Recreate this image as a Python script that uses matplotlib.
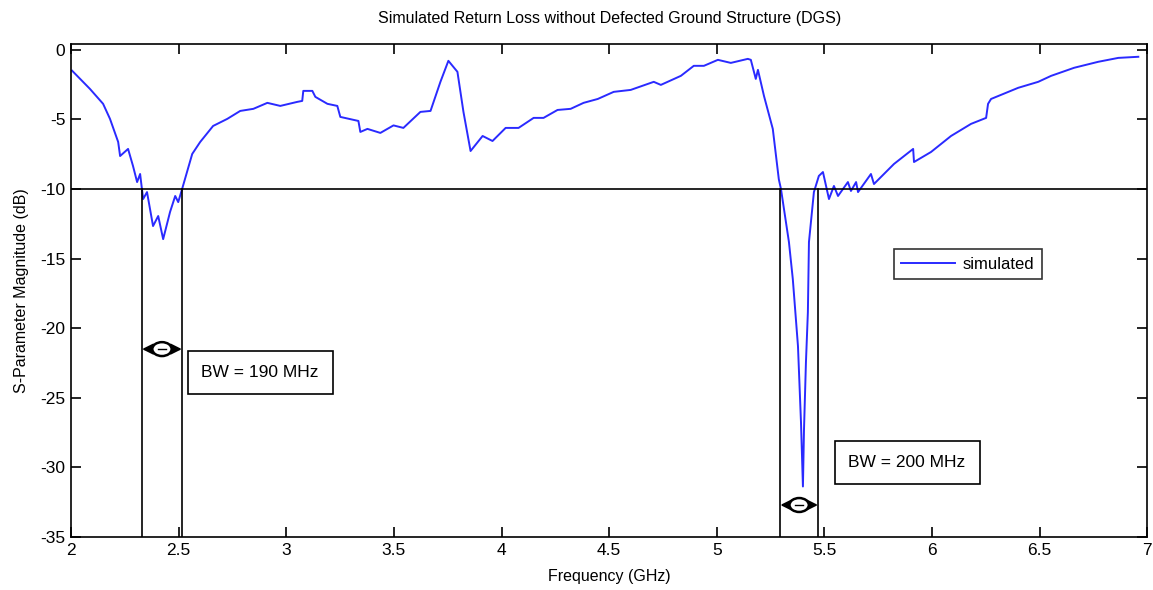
import matplotlib
matplotlib.use('Agg')
import matplotlib.pyplot as plt
from matplotlib.patches import Ellipse

plt.rcParams['font.family'] = ['Liberation Sans', 'DejaVu Sans']
plt.rcParams['axes.unicode_minus'] = False

# --- Данные ---
freq_ghz = [2.005, 2.088, 2.149, 2.181, 2.219, 2.228, 2.265, 2.288, 2.307, 2.321,
            2.335, 2.353, 2.381, 2.405, 2.428, 2.460, 2.484, 2.498, 2.516, 2.563,
            2.600, 2.660, 2.726, 2.786, 2.847, 2.912, 2.972, 3.051, 3.074, 3.079,
            3.121, 3.135, 3.191, 3.237, 3.251, 3.335, 3.344, 3.377, 3.437, 3.498,
            3.544, 3.623, 3.670, 3.716, 3.753, 3.795, 3.823, 3.856, 3.912, 3.958,
            4.019, 4.079, 4.149, 4.195, 4.260, 4.321, 4.381, 4.447, 4.521, 4.600,
            4.707, 4.740, 4.833, 4.893, 4.940, 5.005, 5.065, 5.144, 5.158, 5.181,
            5.191, 5.219, 5.260, 5.288, 5.298, 5.335, 5.353, 5.377, 5.391, 5.400,
            5.405, 5.414, 5.423, 5.428, 5.451, 5.474, 5.493, 5.521, 5.544, 5.563,
            5.609, 5.623, 5.647, 5.656, 5.716, 5.730, 5.823, 5.912, 5.916, 5.995,
            6.088, 6.181, 6.251, 6.260, 6.274, 6.400, 6.493, 6.553, 6.660, 6.772,
            6.865, 6.958]
s11_db = [-1.50, -2.81, -3.88, -4.96, -6.62, -7.63, -7.12, -8.35, -9.50, -8.92,
          -10.72, -10.22, -12.66, -11.94, -13.60, -11.65, -10.50, -10.94, -10.00, -7.48,
          -6.62, -5.47, -4.96, -4.39, -4.24, -3.81, -4.03, -3.74, -3.67, -2.95,
          -2.95, -3.38, -3.88, -4.03, -4.82, -5.11, -5.90, -5.68, -5.97, -5.43,
          -5.61, -4.46, -4.39, -2.30, -0.79, -1.58, -4.46, -7.27, -6.19, -6.55,
          -5.61, -5.61, -4.89, -4.89, -4.32, -4.24, -3.81, -3.53, -3.02, -2.88,
          -2.30, -2.52, -1.87, -1.15, -1.15, -0.72, -0.94, -0.65, -0.72, -2.09,
          -1.44, -3.31, -5.68, -9.30, -10.00, -13.81, -16.47, -21.29, -26.76, -31.37,
          -27.27, -22.45, -18.85, -13.81, -10.22, -9.06, -8.78, -10.72, -9.78, -10.50,
          -9.50, -10.14, -9.50, -10.22, -8.92, -9.64, -8.20, -7.12, -8.06, -7.34,
          -6.19, -5.32, -4.89, -3.88, -3.53, -2.73, -2.30, -1.87, -1.29, -0.86,
          -0.58, -0.50]

level_db = -10
band1 = (2.33, 2.515)
band2 = (5.295, 5.47)
arrow1_y = -21.5
arrow2_y = -32.7
bw1_label = 'BW = 190 MHz'
bw2_label = 'BW = 200 MHz'

# --- Построение ---
fig = plt.figure(figsize=(11.53, 5.90), dpi=100)
ax = fig.add_axes([0.0616, 0.0898, 0.9335, 0.8352])

ax.plot(freq_ghz, s11_db, color='#2a2aff', lw=1.4, label='simulated')

# Уровень -10 дБ и границы полос
ax.axhline(level_db, color='black', lw=1.2)
for f in (*band1, *band2):
    ax.plot([f, f], [-35, level_db], color='black', lw=1.2)

# Стрелки ширины полосы
for (fa, fb), ya in ((band1, arrow1_y), (band2, arrow2_y)):
    ax.annotate('', xy=(fa, ya), xytext=(fb, ya),
                arrowprops=dict(arrowstyle='<|-|>', color='black', lw=1.5,
                                mutation_scale=16, shrinkA=0, shrinkB=0))
    fm = (fa + fb) / 2
    ax.add_patch(Ellipse((fm, ya), 0.09, 1.0, facecolor='white',
                         edgecolor='black', lw=1.8, zorder=5))
    ax.plot([fm - 0.02, fm + 0.02], [ya, ya], color='black', lw=1, zorder=6)

box = dict(boxstyle='square,pad=0.8', facecolor='white', edgecolor='black', lw=1.2)
ax.text(2.879, -23.17, bw1_label, ha='center', va='center', fontsize=12.5, bbox=box)
ax.text(5.884, -29.64, bw2_label, ha='center', va='center', fontsize=12.5, bbox=box)

# Оформление
ax.set_xlim(2, 7)
ax.set_ylim(-35, 0.4)
ax.set_xticks([2, 2.5, 3, 3.5, 4, 4.5, 5, 5.5, 6, 6.5, 7])
ax.set_xticklabels(['2', '2.5', '3', '3.5', '4', '4.5', '5', '5.5', '6', '6.5', '7'])
ax.set_yticks([0, -5, -10, -15, -20, -25, -30, -35])
ax.tick_params(direction='in', length=7, width=1.2, top=True, right=True,
               labelsize=12.5, pad=4)
for sp in ax.spines.values():
    sp.set_linewidth(1.2)

ax.set_xlabel('Frequency (GHz)', fontsize=11.5, labelpad=8)
ax.set_ylabel('S-Parameter Magnitude (dB)', fontsize=11.5, labelpad=8)
ax.set_title('Simulated Return Loss without Defected Ground Structure (DGS)',
             fontsize=11.5, pad=15)

leg = ax.legend(loc='upper left', bbox_to_anchor=(0.7645, 0.584), fontsize=12,
                frameon=True, fancybox=False, handlelength=3.2, handletextpad=0.5,
                borderpad=0.45, borderaxespad=0)
leg.get_frame().set_edgecolor('black')
leg.get_frame().set_linewidth(1.2)

plt.savefig('out.png', dpi=100)
plt.close()
